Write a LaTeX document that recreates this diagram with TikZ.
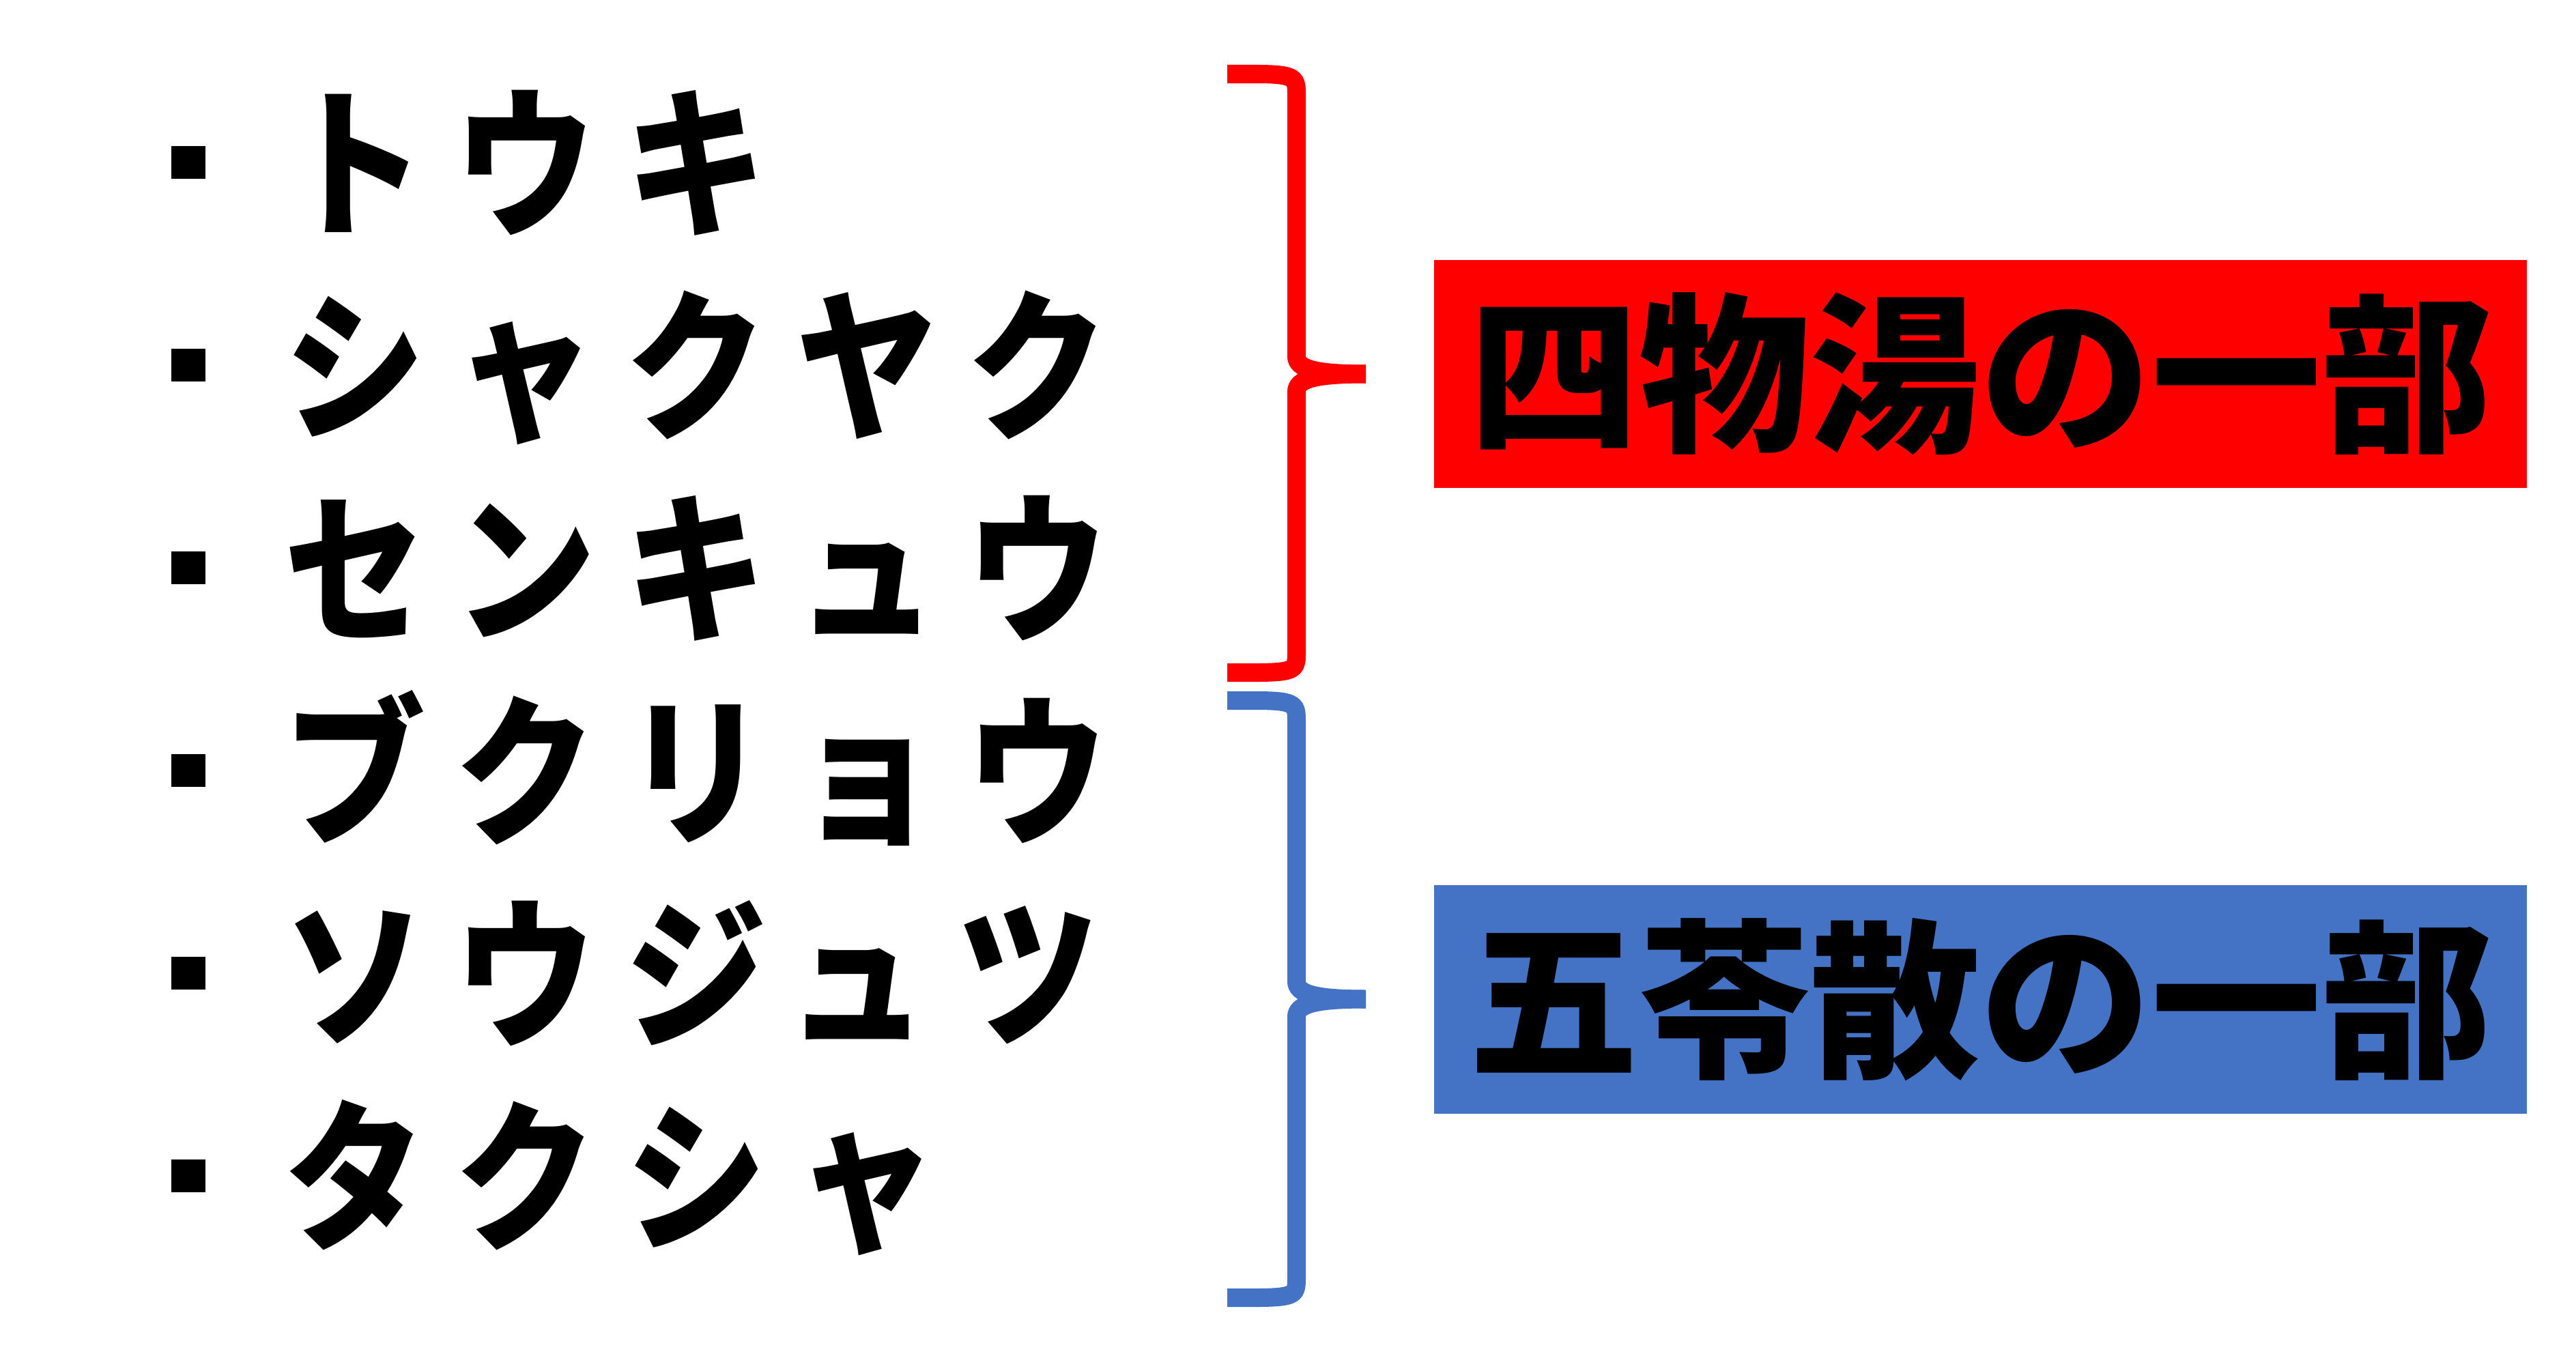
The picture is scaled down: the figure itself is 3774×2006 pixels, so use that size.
\documentclass[tikz,border=0pt]{standalone}
\usepackage{fontspec}
\setmainfont{Noto Sans CJK JP}
\newfontfamily\rowfont{Noto Sans CJK JP}[FakeStretch=0.87, LetterSpace=18.2]
\definecolor{bracered}{HTML}{FF0000}
\definecolor{boxblue}{HTML}{4472C4}
\begin{document}
\begin{tikzpicture}[x=0.01cm,y=-0.01cm,
  every node/.style={font=\fontsize{71.13pt}{80pt}\selectfont\bfseries},
  row/.style={anchor=west, inner sep=0pt, text height=59.5pt, text depth=8.1pt,
    font=\rowfont\fontsize{67.6pt}{76pt}\selectfont\bfseries},
  bul/.style={fill=black, minimum width=0.49cm, minimum height=0.47cm, inner sep=0pt},
  box/.style={minimum width=16.01cm, minimum height=3.34cm, inner sep=0pt},
  brace/.style={line width=7.68pt}]
\useasboundingbox (0,0) rectangle (3774,2006);
% bullets and rows
\node[bul] (b1) at (276,238) {};
\node[row] (t1) at (416,238) {トウキ};
\node[bul] (b2) at (276,535) {};
\node[row] (t2) at (416,535) {シャクヤク};
\node[bul] (b3) at (276,832) {};
\node[row] (t3) at (416,832) {センキュウ};
\node[bul] (b4) at (276,1129) {};
\node[row] (t4) at (416,1129) {ブクリョウ};
\node[bul] (b5) at (276,1426) {};
\node[row] (t5) at (416,1426) {ソウジュツ};
\node[bul] (b6) at (276,1723) {};
\node[row] (t6) at (416,1723) {タクシャ};
% boxes
\node[box, fill=bracered] (shimotsu) at (2901.5,548) {四物湯の一部};
\node[box, fill=boxblue] (goreisan) at (2901.5,1464.5) {五苓散の一部};
% red brace
\draw[brace, bracered] (1798,108.5) -- (1845,108.5) .. controls (1899.5,109) and (1899.5,115) .. (1899.5,140) -- (1899.5,522) .. controls (1899.5,540) and (1925,548) .. (2001,548);
\draw[brace, bracered] (2001,548) .. controls (1925,548) and (1899.5,556) .. (1899.5,574) -- (1899.5,955) .. controls (1899.5,980) and (1899.5,985) .. (1845,985.5) -- (1798,985.5);
% blue brace
\draw[brace, boxblue] (1798,1026.5) -- (1845,1026.5) .. controls (1899.5,1027) and (1899.5,1033) .. (1899.5,1058) -- (1899.5,1438) .. controls (1899.5,1456) and (1925,1464) .. (2001,1464);
\draw[brace, boxblue] (2001,1464) .. controls (1925,1464) and (1899.5,1472) .. (1899.5,1490) -- (1899.5,1871) .. controls (1899.5,1896) and (1899.5,1901) .. (1845,1901.5) -- (1798,1901.5);
\end{tikzpicture}
\end{document}
